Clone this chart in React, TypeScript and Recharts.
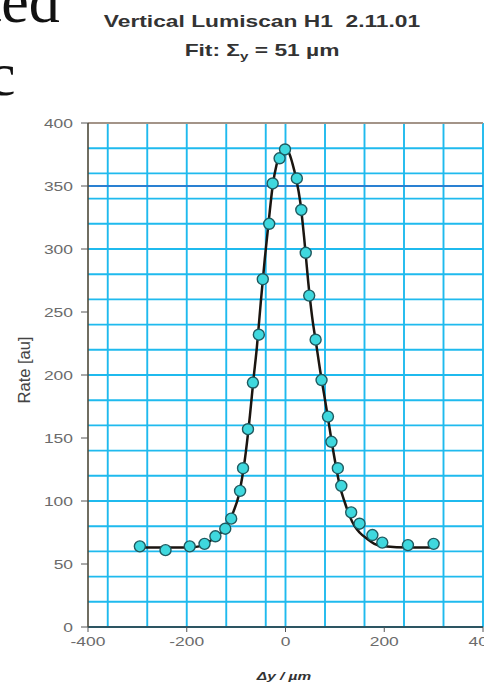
import {
  ComposedChart,
  Line,
  Scatter,
  XAxis,
  YAxis,
  CartesianGrid,
  ReferenceLine,
} from "recharts";

// measured points (Δy in µm, rate in au)
const POINT_X = [
  -295, -243, -194, -164, -142, -122, -110, -92, -86, -76, -66, -54, -46, -33,
  -26, -12, -1, 23, 32, 41, 48, 61, 73, 86, 93, 106, 113, 133, 150, 176, 196,
  248, 300,
];
const POINT_Y = [
  64, 61, 64, 66, 72, 78, 86, 108, 126, 157, 194, 232, 276, 320, 352, 372, 379,
  356, 331, 297, 263, 228, 196, 167, 147, 126, 112, 91, 82, 73, 67, 65, 66,
];

// fit curve
const FIT_X = [
  -300, -250, -200, -175, -150, -130, -115, -105, -95, -88, -80, -72, -65, -58,
  -50, -42, -34, -26, -18, -10, -2, 6, 14, 22, 30, 38, 46, 54, 62, 70, 78, 86,
  94, 102, 110, 120, 130, 140, 150, 165, 180, 200, 250, 300,
];
const FIT_Y = [
  63, 63, 63, 64, 69, 75, 83, 92, 104, 118, 140, 168, 196, 222, 258, 292, 322,
  350, 367, 376, 379, 377, 368, 355, 337, 308, 274, 246, 225, 204, 185, 166,
  146, 128, 112, 99, 88, 80, 75, 70, 66, 64, 63, 63,
];

const X_TICKS = [-400, -200, 0, 200, 400];
const Y_TICKS = [0, 50, 100, 150, 200, 250, 300, 350, 400];
const GRID_X = [
  -400, -360, -320, -280, -240, -200, -160, -120, -80, -40, 0, 40, 80, 120, 160,
  200, 240, 280, 320, 360, 400,
];
const GRID_Y = [
  0, 10, 20, 30, 40, 50, 60, 70, 80, 90, 100, 110, 120, 130, 140, 150, 160, 170,
  180, 190, 200, 210, 220, 230, 240, 250, 260, 270, 280, 290, 300, 310, 320,
  330, 340, 350, 360, 370, 380, 390, 400,
];

const points = POINT_X.map((x, i) => ({ x, y: POINT_Y[i] }));
const fit = FIT_X.map((x, i) => ({ x, y: FIT_Y[i] }));

const SX = 1.34; // the scan is stretched sideways
const SANS = "Arial, 'Liberation Sans', sans-serif";

function YTick({ x, y, payload }: any) {
  return (
    <text
      transform={`translate(${x} ${y}) scale(${SX} 1)`}
      textAnchor="end"
      dy="0.36em"
      fontSize={13}
      fontFamily={SANS}
      fill="#6b6b6b"
    >
      {payload.value}
    </text>
  );
}

function XTick({ x, y, payload }: any) {
  return (
    <text
      transform={`translate(${x} ${y}) scale(${SX} 1)`}
      textAnchor="middle"
      dy="0.71em"
      fontSize={13}
      fontFamily={SANS}
      fill="#6b6b6b"
    >
      {payload.value}
    </text>
  );
}

function Marker({ cx, cy }: any) {
  return (
    <circle cx={cx} cy={cy} r={5.5} fill="#3fd8de" stroke="#1f5a60" strokeWidth={1.4} />
  );
}

export default function App() {
  return (
    <div
      style={{
        position: "fixed",
        left: 0,
        top: 0,
        width: 484,
        height: 684,
        overflow: "hidden",
        background: "#fff",
      }}
    >
      <div style={{ position: "absolute", left: 0, top: 0 }}>
        <ComposedChart
          width={500}
          height={684}
          margin={{ top: 123, right: 17, bottom: 0, left: 0 }}
        >
          <CartesianGrid
            stroke="#1fbaee"
            strokeWidth={1.9}
            verticalValues={GRID_X}
            horizontalValues={GRID_Y}
          />
          <ReferenceLine y={350} stroke="#2a80d2" strokeWidth={1.8} />
          <ReferenceLine y={400} stroke="#a39488" strokeWidth={1.8} />
          <XAxis
            type="number"
            dataKey="x"
            domain={[-400, 400]}
            ticks={X_TICKS}
            height={57}
            tickSize={5}
            tickMargin={5}
            tick={<XTick />}
            axisLine={{ stroke: "#333", strokeWidth: 1.6 }}
            tickLine={{ stroke: "#555" }}
            allowDataOverflow
          />
          <YAxis
            type="number"
            domain={[0, 400]}
            ticks={Y_TICKS}
            width={88}
            tickSize={7}
            tickMargin={8}
            tick={<YTick />}
            axisLine={{ stroke: "#4d4a3a", strokeWidth: 1.6 }}
            tickLine={{ stroke: "#555" }}
            allowDataOverflow
          />
          <Line
            data={fit}
            dataKey="y"
            type="monotone"
            stroke="#1a1510"
            strokeWidth={2.5}
            dot={false}
            isAnimationActive={false}
          />
          <Scatter
            data={points}
            dataKey="y"
            shape={<Marker />}
            isAnimationActive={false}
          />
        </ComposedChart>
      </div>
      <svg
        width={484}
        height={684}
        style={{ position: "absolute", left: 0, top: 0, pointerEvents: "none" }}
      >
        <text x={-16} y={22} fontSize={62} fontFamily="'Liberation Serif', serif" fill="#111">
          ted
        </text>
        <text x={-12} y={95} fontSize={62} fontFamily="'Liberation Serif', serif" fill="#111">
          c
        </text>
        <g fontFamily={SANS} fontWeight="bold" fill="#333" fontSize={16.5}>
          <text transform={`translate(262 27) scale(1.38 1)`} textAnchor="middle">
            Vertical Lumiscan H1{"\u00a0\u00a0"}2.11.01
          </text>
          <text transform={`translate(262 56) scale(1.38 1)`} textAnchor="middle">
            Fit: Σ
            <tspan fontSize={11} dy={4}>
              y
            </tspan>
            <tspan dy={-4}> = 51 µm</tspan>
          </text>
        </g>
        <text
          transform="translate(30 370) rotate(-90) scale(1.1 1.15)"
          textAnchor="middle"
          fontFamily={SANS}
          fontSize={15}
          fill="#444"
        >
          Rate [au]
        </text>
        <text
          transform={`translate(284 680) scale(${SX} 1)`}
          textAnchor="middle"
          fontFamily={SANS}
          fontWeight="bold"
          fontStyle="italic"
          fontSize={11.5}
          fill="#333"
        >
          Δy / µm
        </text>
      </svg>
    </div>
  );
}
